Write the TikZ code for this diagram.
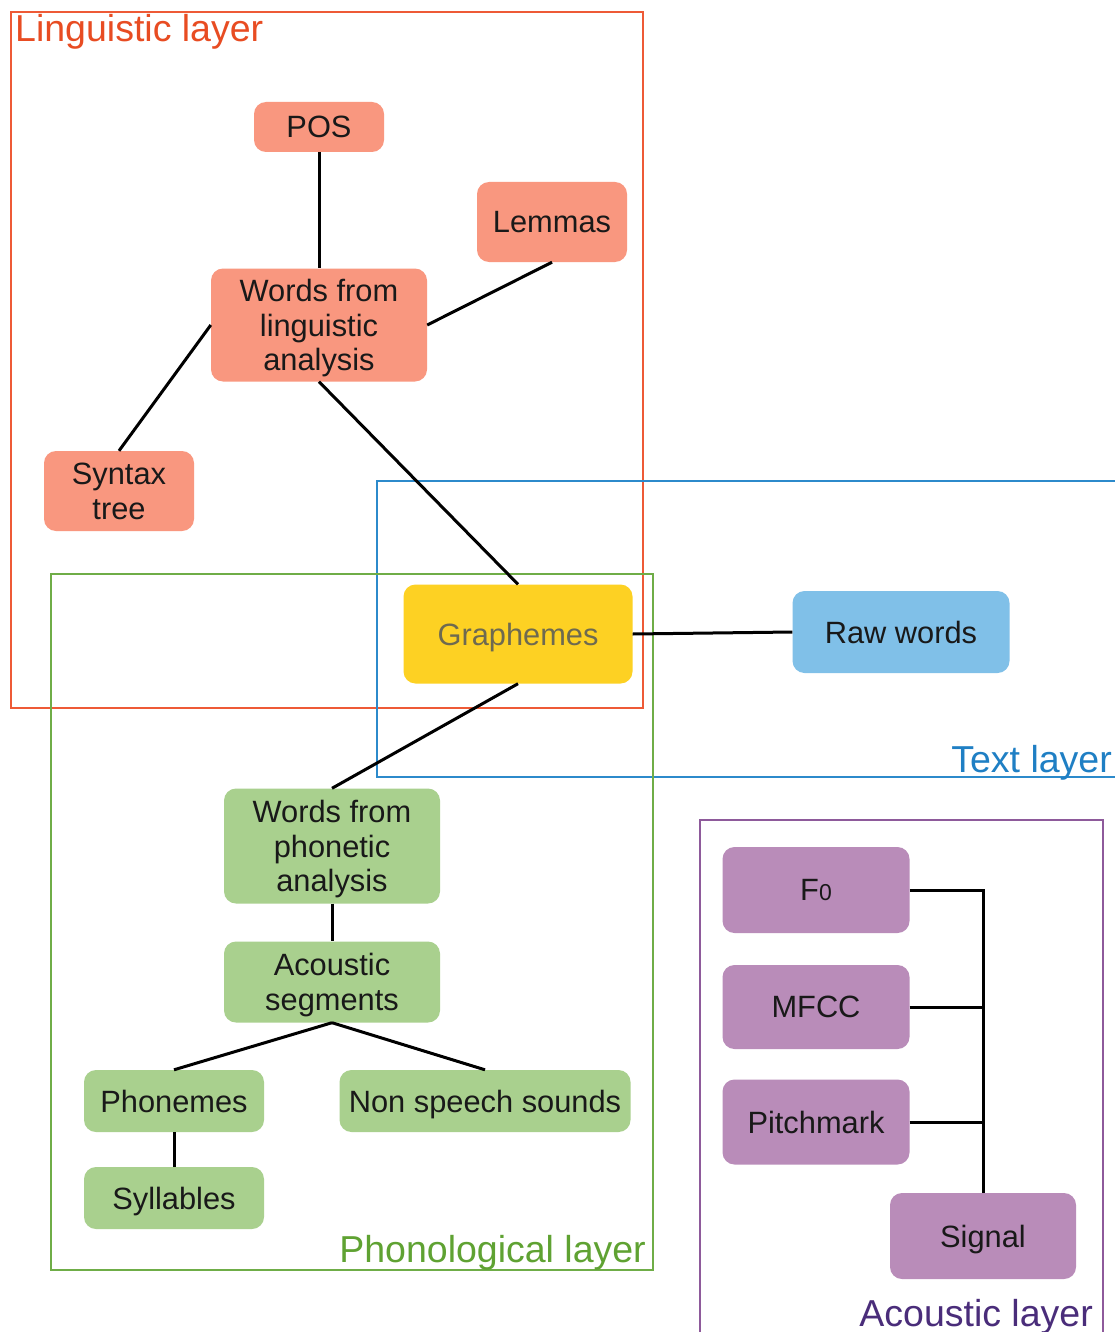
\documentclass[tikz,border=0pt]{standalone}
\usepackage{fontspec}
\setmainfont{Liberation Sans}
\begin{document}
\definecolor{lingline}{HTML}{EE5A36}
\definecolor{linglabel}{HTML}{E84C22}
\definecolor{lingfill}{HTML}{F9977F}
\definecolor{textline}{HTML}{2C8ACB}
\definecolor{textlabel}{HTML}{1F7FC4}
\definecolor{textfill}{HTML}{80C0E8}
\definecolor{phonline}{HTML}{6FAD47}
\definecolor{phonlabel}{HTML}{5FA232}
\definecolor{phonfill}{HTML}{A9D08E}
\definecolor{graphfill}{HTML}{FDD123}
\definecolor{graphtext}{HTML}{6E6A50}
\definecolor{acline}{HTML}{8E5A9B}
\definecolor{aclabel}{HTML}{4A2D7A}
\definecolor{acfill}{HTML}{B98CB9}
\begin{tikzpicture}[x=1pt,y=-1pt,
  box/.style={rounded corners=12pt, inner sep=0pt, align=center, text depth=0pt,
    font=\fontsize{30.8}{34.5}\selectfont, text=black!90},
  ling/.style={box, fill=lingfill},
  txt/.style={box, fill=textfill},
  phon/.style={box, fill=phonfill},
  ac/.style={box, fill=acfill},
  link/.style={line width=3pt, black},
  layerbox/.style={line width=1.5pt},
  layerlabel/.style={font=\fontsize{37.5}{42}\selectfont, inner sep=0pt}]
\useasboundingbox (0,0) rectangle (1115,1332);
\fill[white] (0,0) rectangle (1115,1332);

% layer frames
\draw[layerbox, lingline] (11,12) rectangle (643,708);
\draw[layerbox, textline] (377,481) rectangle (1125,777);
\draw[layerbox, phonline] (51,574) rectangle (653,1270);
\draw[layerbox, acline] (700,1345) -- (700,820) -- (1103,820) -- (1103,1345);

% layer labels
\node[layerlabel, text=linglabel, anchor=base west] (lingname) at (15,42) {Linguistic layer};
\node[layerlabel, text=textlabel, anchor=base east] (textname) at (1112,772) {Text layer};
\node[layerlabel, text=phonlabel, anchor=base east] (phonname) at (646,1262) {Phonological layer};
\node[layerlabel, text=aclabel, anchor=base east] (acname) at (1093,1326) {Acoustic layer};

% linguistic layer
\node[ling, minimum width=130pt, minimum height=50pt] (pos) at (319,127) {POS};
\node[ling, minimum width=150pt, minimum height=80pt] (lemmas) at (552,222) {Lemmas};
\node[ling, minimum width=216pt, minimum height=113pt] (wling) at (319,325) {Words from\\linguistic\\analysis};
\node[ling, minimum width=150pt, minimum height=80pt] (syntax) at (119,491) {Syntax\\tree};

% text layer
\node[box, fill=graphfill, text=graphtext, minimum width=229pt, minimum height=99pt] (graph) at (518,634) {Graphemes};
\node[txt, minimum width=217pt, minimum height=82pt] (raw) at (901,632) {Raw words};

% phonological layer
\node[phon, minimum width=216pt, minimum height=115pt] (wphon) at (332,846) {Words from\\phonetic\\analysis};
\node[phon, minimum width=216pt, minimum height=81pt] (aseg) at (332,982) {Acoustic\\segments};
\node[phon, minimum width=180pt, minimum height=62pt] (phonemes) at (174,1101) {Phonemes};
\node[phon, minimum width=291pt, minimum height=62pt] (nonspeech) at (485,1101) {Non speech sounds};
\node[phon, minimum width=180pt, minimum height=62pt] (syll) at (174,1198) {Syllables};

% acoustic layer
\node[ac, minimum width=187pt, minimum height=86pt] (f0) at (816,890) {F{\fontsize{23}{23}\selectfont 0}};
\node[ac, minimum width=187pt, minimum height=84pt] (mfcc) at (816,1007) {MFCC};
\node[ac, minimum width=187pt, minimum height=85pt] (pitch) at (816,1122) {Pitchmark};
\node[ac, minimum width=186pt, minimum height=86pt] (signal) at (983,1236) {Signal};

% connectors
\draw[link] (pos.south) -- (wling.north);
\draw[link] (lemmas.south) -- (wling.east);
\draw[link] (wling.west) -- (syntax.north);
\draw[link] (wling.south) -- (graph.north);
\draw[link] (graph.east) -- (raw.west);
\draw[link] (graph.south) -- (wphon.north);
\draw[link] (wphon.south) -- (aseg.north);
\draw[link] (aseg.south) -- (phonemes.north);
\draw[link] (aseg.south) -- (nonspeech.north);
\draw[link] (phonemes.south) -- (syll.north);
\draw[link] (f0.east) -| (signal.north);
\draw[link] (mfcc.east) -- (mfcc.east -| signal.north);
\draw[link] (pitch.east) -- (pitch.east -| signal.north);
\end{tikzpicture}
\end{document}
